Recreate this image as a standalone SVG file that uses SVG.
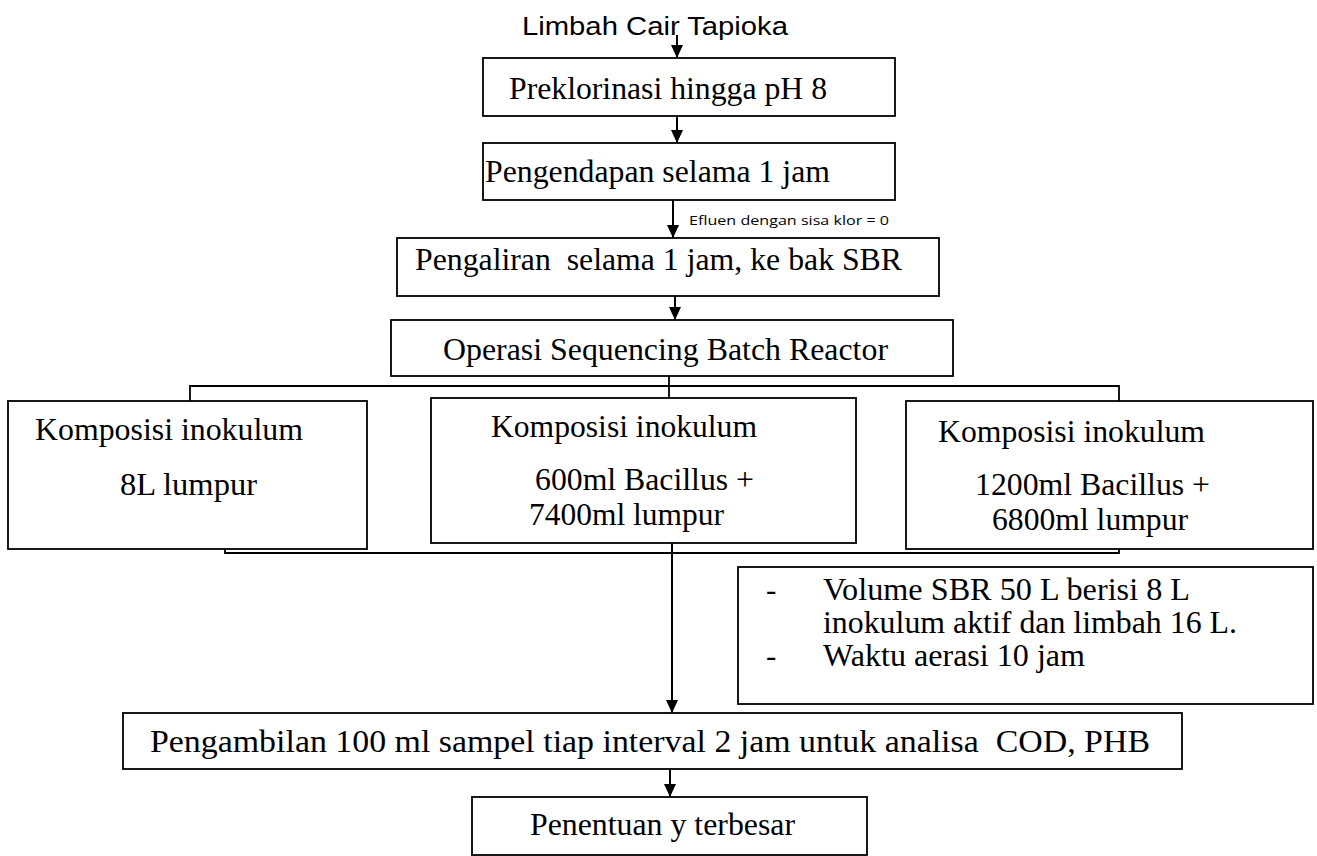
<svg xmlns="http://www.w3.org/2000/svg" width="1317" height="856" viewBox="0 0 1317 856">
<style>
.box{fill:#fff;stroke:#000;stroke-width:1.8}
.ln{fill:none;stroke:#000;stroke-width:1.8}
.ar{fill:none;stroke:#000;stroke-width:2;marker-end:url(#ah)}
</style>
<defs>
<marker id="ah" markerUnits="userSpaceOnUse" markerWidth="13" markerHeight="12" refX="13" refY="6" orient="auto" viewBox="0 0 13 12">
<path d="M0,0 L13,6 L0,12 Z" fill="#000"/>
</marker>
</defs>
<rect width="1317" height="856" fill="#fff"/>
<g id="connectors">
<line class="ar" x1="677" y1="35" x2="677" y2="58"/>
<line class="ar" x1="677" y1="116" x2="677" y2="143"/>
<line class="ar" x1="673" y1="200" x2="673" y2="238"/>
<line class="ar" x1="675" y1="296" x2="675" y2="320"/>
<path class="ln" d="M669,376 V398 M190,401 V386 H1119 V403"/>
<path class="ln" d="M225,534 V553 H1119 V535"/>
<line class="ar" x1="672" y1="543" x2="672" y2="713"/>
<line class="ar" x1="670" y1="769" x2="670" y2="797"/>
<text x="689" y="225" font-family="Open Sans, Liberation Sans, sans-serif" font-size="12.5" textLength="200" lengthAdjust="spacingAndGlyphs">Efluen dengan sisa klor = 0</text>
</g>
<g id="start">
<text x="522" y="35" font-family="Liberation Sans, Arial, sans-serif" font-size="25" textLength="266" lengthAdjust="spacingAndGlyphs">Limbah Cair Tapioka</text>
</g>
<g font-family="Liberation Serif, serif" font-size="31" fill="#000">
<g id="n1">
<rect class="box" x="483" y="58" width="412" height="58"/>
<text x="509" y="99" textLength="318" lengthAdjust="spacingAndGlyphs">Preklorinasi hingga pH 8</text>
</g>
<g id="n2">
<rect class="box" x="483" y="143" width="412" height="57"/>
<text x="485" y="182" textLength="345" lengthAdjust="spacingAndGlyphs">Pengendapan selama 1 jam</text>
</g>
<g id="n3">
<rect class="box" x="397" y="238" width="542" height="58"/>
<text x="415" y="270" textLength="487" lengthAdjust="spacingAndGlyphs" xml:space="preserve">Pengaliran  selama 1 jam, ke bak SBR</text>
</g>
<g id="n4">
<rect class="box" x="391" y="320" width="562" height="56"/>
<text x="443" y="360" textLength="445" lengthAdjust="spacingAndGlyphs">Operasi Sequencing Batch Reactor</text>
</g>
<g id="nA">
<rect class="box" x="8" y="401" width="359" height="148"/>
<text x="35" y="440" textLength="268" lengthAdjust="spacingAndGlyphs">Komposisi inokulum</text>
<text x="120" y="495" textLength="137" lengthAdjust="spacingAndGlyphs">8L lumpur</text>
</g>
<g id="nB">
<rect class="box" x="431" y="398" width="425" height="145"/>
<text x="491" y="437" textLength="266" lengthAdjust="spacingAndGlyphs">Komposisi inokulum</text>
<text x="535" y="490" textLength="219" lengthAdjust="spacingAndGlyphs">600ml Bacillus +</text>
<text x="529" y="525" textLength="195" lengthAdjust="spacingAndGlyphs">7400ml lumpur</text>
</g>
<g id="nC">
<rect class="box" x="906" y="401" width="407" height="148"/>
<text x="938" y="442" textLength="267" lengthAdjust="spacingAndGlyphs">Komposisi inokulum</text>
<text x="975" y="495" textLength="235" lengthAdjust="spacingAndGlyphs">1200ml Bacillus +</text>
<text x="992" y="530" textLength="196" lengthAdjust="spacingAndGlyphs">6800ml lumpur</text>
</g>
<g id="info">
<rect class="box" x="738" y="567" width="575" height="137"/>
<text x="766" y="600">-</text>
<text x="823" y="600" textLength="367" lengthAdjust="spacingAndGlyphs">Volume SBR 50 L berisi 8 L</text>
<text x="823" y="633" textLength="414" lengthAdjust="spacingAndGlyphs">inokulum aktif dan limbah 16 L.</text>
<text x="766" y="666">-</text>
<text x="823" y="666" textLength="262" lengthAdjust="spacingAndGlyphs">Waktu aerasi 10 jam</text>
</g>
<g id="n5">
<rect class="box" x="123" y="713" width="1059" height="56"/>
<text x="150" y="752" textLength="1000" lengthAdjust="spacingAndGlyphs" xml:space="preserve">Pengambilan 100 ml sampel tiap interval 2 jam untuk analisa  COD, PHB</text>
</g>
<g id="n6">
<rect class="box" x="472" y="797" width="395" height="58"/>
<text x="530" y="835" textLength="265" lengthAdjust="spacingAndGlyphs">Penentuan y terbesar</text>
</g>
</g>
</svg>
